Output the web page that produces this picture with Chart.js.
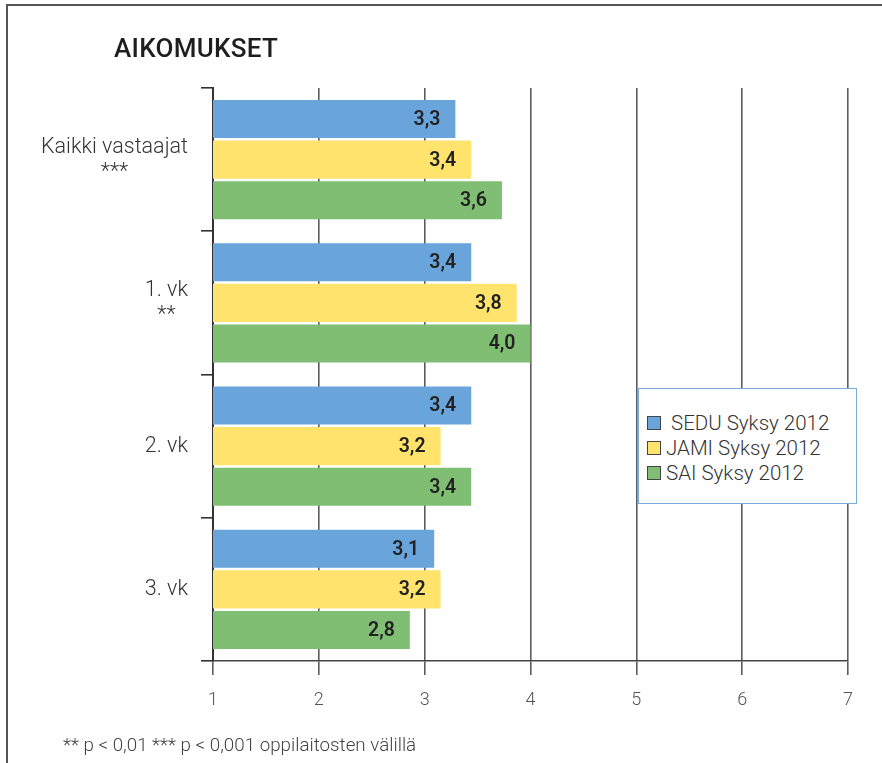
<!DOCTYPE html>
<html>
<head>
<meta charset="utf-8">
<script src="https://cdn.jsdelivr.net/npm/chart.js@4/dist/chart.umd.min.js"></script>
<style>
  html, body { margin: 0; padding: 0; background: #fff; }
  #wrap { position: relative; width: 882px; height: 763px; overflow: hidden; font-family: Roboto, "DejaVu Sans", sans-serif; }
  #frame { position: absolute; left: 6px; top: 4px; right: -10px; bottom: -10px; border-left: 2px solid #555; border-top: 2px solid #555; }
  canvas { position: absolute; left: 0; top: 0; }
  #title { position: absolute; left: 114px; top: 33px; font-size: 26px; font-weight: 500; color: #1e1e1e; letter-spacing: 0.3px; }
  #foot { position: absolute; left: 63px; top: 734px; font-size: 18.8px; color: #444; font-weight: 300; }
  #legend { position: absolute; left: 638px; top: 388px; width: 217px; height: 114px; border: 1.5px solid #78acdf; background: #fff; box-sizing: content-box; }
  #legend .item { position: absolute; left: 8px; height: 25px; display: flex; align-items: center; font-size: 20.5px; font-weight: 300; color: #333; }
  #legend .sw { width: 12px; height: 12px; border: 1.3px solid #444; margin-right: 5px; }
</style>
</head>
<body>
<div id="wrap">
  <div id="frame"></div>
  <canvas id="c" width="882" height="763"></canvas>
  <div id="title">AIKOMUKSET</div>
  <div id="legend"></div>
  <div id="foot">** p &lt; 0,01 *** p &lt; 0,001 oppilaitosten välillä</div>
</div>
<script>
const categories = [["Kaikki vastaajat", "***"], ["1. vk", "**"], "2. vk", "3. vk"];
const seriesNames = [" SEDU Syksy 2012", "JAMI Syksy 2012", "SAI Syksy 2012"];
// bar lengths
const seduValues = [3.29, 3.44, 3.44, 3.09];
const jamiValues = [3.44, 3.87, 3.15, 3.15];
const saiValues = [3.73, 4.0, 3.44, 2.86];
// value labels as printed in the picture
const seduLabels = ["3,3", "3,4", "3,4", "3,1"];
const jamiLabels = ["3,4", "3,8", "3,2", "3,2"];
const saiLabels = ["3,6", "4,0", "3,4", "2,8"];
const xTicks = [1, 2, 3, 4, 5, 6, 7];
const colors = ["#69a5db", "#ffe36c", "#7fbe73"];
const allLabels = [seduLabels, jamiLabels, saiLabels];

const barLabels = {
  id: 'barLabels',
  afterDatasetsDraw(chart) {
    const ctx = chart.ctx;
    ctx.save();
    ctx.font = "600 19.5px Roboto, 'DejaVu Sans', sans-serif";
    ctx.fillStyle = "#222";
    ctx.textAlign = "right";
    ctx.textBaseline = "middle";
    chart.data.datasets.forEach((ds, di) => {
      chart.getDatasetMeta(di).data.forEach((bar, i) => {
        ctx.fillText(allLabels[di][i], bar.x - 15, bar.y + 1);
      });
    });
    ctx.restore();
  }
};

const yLabels = {
  id: 'yLabels',
  afterDraw(chart) {
    const ctx = chart.ctx;
    const ys = chart.scales.y;
    ctx.save();
    ctx.font = "300 21.5px Roboto, 'DejaVu Sans', sans-serif";
    ctx.fillStyle = "#333";
    ctx.textBaseline = "middle";
    ctx.textAlign = "center";
    const right = chart.chartArea.left - 25;
    const lh = 25;
    categories.forEach((lab, i) => {
      const lines = Array.isArray(lab) ? lab : [lab];
      const w = Math.max(...lines.map(l => ctx.measureText(l).width));
      const cx = right - w / 2;
      const cy = ys.getPixelForTick(i);
      const y0 = cy - (lines.length - 1) * lh / 2;
      lines.forEach((l, k) => ctx.fillText(l, cx, y0 + k * lh));
    });
    ctx.restore();
  }
};

const chart = new Chart(document.getElementById('c'), {
  type: 'bar',
  data: {
    labels: categories,
    datasets: [
      { label: seriesNames[0], data: seduValues, backgroundColor: colors[0] },
      { label: seriesNames[1], data: jamiValues, backgroundColor: colors[1] },
      { label: seriesNames[2], data: saiValues, backgroundColor: colors[2] }
    ]
  },
  options: {
    indexAxis: 'y',
    responsive: false,
    animation: false,
    devicePixelRatio: 1,
    layout: { padding: { left: 0, top: 88, right: 34, bottom: 42 } },
    categoryPercentage: 0.85,
    barPercentage: 0.94,
    plugins: { legend: { display: false }, tooltip: { enabled: false }, title: { display: false } },
    scales: {
      x: {
        min: 1, max: 7,
        afterBuildTicks(scale) { scale.ticks = xTicks.map(v => ({ value: v })); },
        afterFit(scale) { scale.height = 60; },
        grid: { drawOnChartArea: true, drawTicks: true, tickLength: 14, color: '#5c5c5c', lineWidth: 1.6 },
        border: { display: true, color: '#444', width: 1.6 },
        ticks: { color: '#555', padding: 15, font: { family: "Roboto, 'DejaVu Sans', sans-serif", size: 18, weight: '300' } }
      },
      y: {
        type: 'category',
        afterFit(scale) { scale.width = 213; },
        grid: { offset: true, drawOnChartArea: false, drawTicks: true, tickLength: 12, color: '#333', lineWidth: 1.6 },
        border: { display: true, color: '#333', width: 2 },
        ticks: { display: false }
      }
    }
  },
  plugins: [barLabels, yLabels]
});

const legend = document.getElementById('legend');
chart.data.datasets.forEach((ds, i) => {
  const it = document.createElement('div');
  it.className = 'item';
  it.style.top = (21 + i * 25) + 'px';
  const sw = document.createElement('div');
  sw.className = 'sw';
  sw.style.background = ds.backgroundColor;
  const tx = document.createElement('span');
  tx.textContent = ds.label;
  tx.style.whiteSpace = 'pre';
  it.appendChild(sw); it.appendChild(tx);
  legend.appendChild(it);
});
</script>
</body>
</html>
